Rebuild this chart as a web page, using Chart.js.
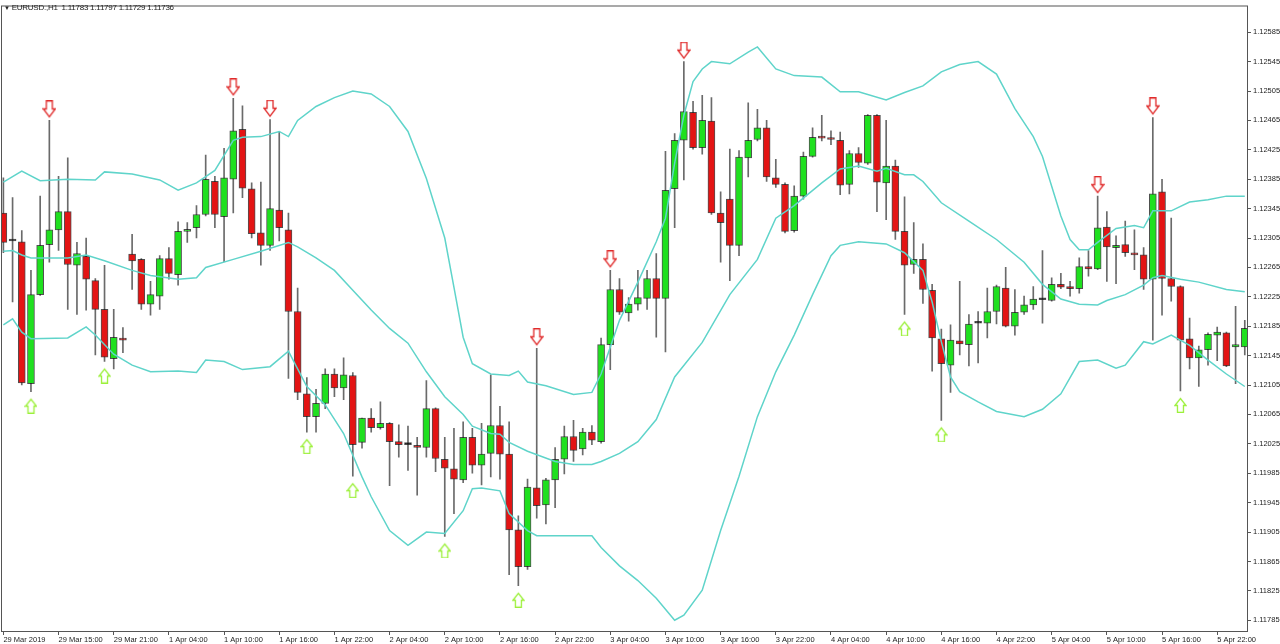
<!DOCTYPE html>
<html>
<head>
<meta charset="utf-8">
<script src="https://cdn.jsdelivr.net/npm/chart.js"></script>
<style>
  html, body { margin: 0; padding: 0; background: #fff; }
  #wrap { position: relative; width: 1280px; height: 644px; }
  #hdr { position: absolute; left: 4px; top: 3px; font: 8px "Liberation Sans", Arial, sans-serif; letter-spacing: -0.25px; color: #222; white-space: pre; }
  #hdr b { font-size: 6px; font-weight: normal; }
</style>
</head>
<body>
<div id="wrap">
  <canvas id="chart" width="1280" height="644"></canvas>
  <div id="hdr"><b>▼</b> EURUSD.,H1  1.11783 1.11797 1.11729 1.11736</div>
</div>
<script>
// EURUSD H1, 29 Mar - 5 Apr 2019, one entry per bar
const opens = [
  1.12339, 1.12301, 1.12300, 1.12107, 1.12228, 1.12296, 1.12316, 1.12341, 1.12268, 1.12280,
  1.12247, 1.12208, 1.12141, 1.12169, 1.12283, 1.12276, 1.12215, 1.12226, 1.12277, 1.12255,
  1.12314, 1.12319, 1.12337, 1.12382, 1.12334, 1.12385, 1.12453, 1.12372, 1.12312, 1.12295,
  1.12343, 1.12316, 1.12205, 1.12093, 1.12062, 1.12080, 1.12120, 1.12101, 1.12118, 1.12027,
  1.12060, 1.12047, 1.12053, 1.12028, 1.12024, 1.12023, 1.12020, 1.12073, 1.12004, 1.11991,
  1.11976, 1.12034, 1.11996, 1.12012, 1.12050, 1.12011, 1.11908, 1.11858, 1.11965, 1.11942,
  1.11976, 1.12004, 1.12035, 1.12018, 1.12041, 1.12028, 1.12160, 1.12235, 1.12203, 1.12215,
  1.12223, 1.12250, 1.12223, 1.12372, 1.12438, 1.12476, 1.12428, 1.12464, 1.12339, 1.12358,
  1.12295, 1.12414, 1.12439, 1.12455, 1.12387, 1.12378, 1.12315, 1.12362, 1.12416, 1.12442,
  1.12441, 1.12438, 1.12378, 1.12420, 1.12407, 1.12472, 1.12380, 1.12403, 1.12314, 1.12269,
  1.12276, 1.12234, 1.12168, 1.12132, 1.12165, 1.12160, 1.12189, 1.12189, 1.12205, 1.12237,
  1.12185, 1.12204, 1.12214, 1.12221, 1.12220, 1.12242, 1.12239, 1.12236, 1.12266, 1.12263,
  1.12320, 1.12292, 1.12296, 1.12284, 1.12282, 1.12249, 1.12368, 1.12250, 1.12239, 1.12168,
  1.12142, 1.12153, 1.12173, 1.12176, 1.12157, 1.12157
];
const highs = [
  1.12387, 1.12360, 1.12315, 1.12261, 1.12362, 1.12465, 1.12389, 1.12414, 1.12299, 1.12305,
  1.12250, 1.12268, 1.12208, 1.12183, 1.12310, 1.12277, 1.12246, 1.12281, 1.12292, 1.12327,
  1.12326, 1.12349, 1.12418, 1.12389, 1.12427, 1.12495, 1.12485, 1.12380, 1.12381, 1.12466,
  1.12450, 1.12339, 1.12237, 1.12115, 1.12099, 1.12127, 1.12127, 1.12142, 1.12122, 1.12060,
  1.12073, 1.12082, 1.12054, 1.12051, 1.12049, 1.12034, 1.12111, 1.12074, 1.12034, 1.12046,
  1.12055, 1.12046, 1.12053, 1.12119, 1.12076, 1.12055, 1.11927, 1.11977, 1.12155, 1.11978,
  1.12020, 1.12049, 1.12057, 1.12046, 1.12050, 1.12169, 1.12261, 1.12250, 1.12224, 1.12261,
  1.12261, 1.12284, 1.12423, 1.12447, 1.12545, 1.12491, 1.12499, 1.12496, 1.12368, 1.12426,
  1.12424, 1.12489, 1.12480, 1.12465, 1.12412, 1.12380, 1.12376, 1.12422, 1.12455, 1.12472,
  1.12451, 1.12449, 1.12424, 1.12428, 1.12473, 1.12473, 1.12465, 1.12411, 1.12361, 1.12326,
  1.12297, 1.12242, 1.12181, 1.12187, 1.12246, 1.12201, 1.12205, 1.12237, 1.12241, 1.12265,
  1.12235, 1.12226, 1.12239, 1.12288, 1.12251, 1.12257, 1.12246, 1.12278, 1.12288, 1.12362,
  1.12341, 1.12308, 1.12328, 1.12316, 1.12292, 1.12469, 1.12385, 1.12332, 1.12240, 1.12196,
  1.12158, 1.12176, 1.12184, 1.12177, 1.12212, 1.12193
];
const lows = [
  1.12285, 1.12218, 1.12105, 1.12096, 1.12227, 1.12272, 1.12288, 1.12208, 1.12201, 1.12207,
  1.12146, 1.12137, 1.12127, 1.12149, 1.12235, 1.12208, 1.12200, 1.12208, 1.12249, 1.12241,
  1.12299, 1.12305, 1.12335, 1.12319, 1.12273, 1.12339, 1.12360, 1.12305, 1.12268, 1.12288,
  1.12301, 1.12114, 1.12085, 1.12041, 1.12041, 1.12073, 1.12089, 1.12085, 1.11981, 1.12019,
  1.12041, 1.12045, 1.11968, 1.12007, 1.11989, 1.11955, 1.12007, 1.11987, 1.11899, 1.11930,
  1.11972, 1.11985, 1.11969, 1.11980, 1.11977, 1.11847, 1.11832, 1.11854, 1.11924, 1.11916,
  1.11938, 1.11984, 1.12001, 1.12010, 1.12024, 1.12026, 1.12126, 1.12201, 1.12192, 1.12207,
  1.12208, 1.12170, 1.12150, 1.12319, 1.12384, 1.12426, 1.12419, 1.12337, 1.12272, 1.12247,
  1.12281, 1.12388, 1.12437, 1.12382, 1.12374, 1.12312, 1.12313, 1.12358, 1.12415, 1.12437,
  1.12432, 1.12364, 1.12365, 1.12401, 1.12405, 1.12341, 1.12330, 1.12303, 1.12201, 1.12257,
  1.12216, 1.12124, 1.12057, 1.12095, 1.12146, 1.12131, 1.12135, 1.12169, 1.12188, 1.12184,
  1.12173, 1.12201, 1.12208, 1.12189, 1.12219, 1.12236, 1.12226, 1.12230, 1.12253, 1.12262,
  1.12246, 1.12243, 1.12280, 1.12262, 1.12235, 1.12166, 1.12200, 1.12219, 1.12097, 1.12127,
  1.12103, 1.12132, 1.12138, 1.12130, 1.12107, 1.12146
];
const closes = [
  1.12299, 1.12301, 1.12108, 1.12228, 1.12295, 1.12316, 1.12341, 1.12269, 1.12284, 1.12249,
  1.12208, 1.12143, 1.12170, 1.12166, 1.12274, 1.12215, 1.12228, 1.12277, 1.12257, 1.12314,
  1.12316, 1.12337, 1.12385, 1.12337, 1.12387, 1.12451, 1.12373, 1.12311, 1.12295, 1.12345,
  1.12319, 1.12205, 1.12095, 1.12062, 1.12080, 1.12120, 1.12101, 1.12119, 1.12024, 1.12060,
  1.12047, 1.12053, 1.12028, 1.12024, 1.12024, 1.12020, 1.12073, 1.12005, 1.11992, 1.11977,
  1.12034, 1.11996, 1.12011, 1.12050, 1.12011, 1.11908, 1.11858, 1.11966, 1.11941, 1.11976,
  1.12004, 1.12035, 1.12016, 1.12041, 1.12030, 1.12160, 1.12235, 1.12204, 1.12215, 1.12224,
  1.12250, 1.12223, 1.12370, 1.12438, 1.12477, 1.12428, 1.12465, 1.12339, 1.12326, 1.12295,
  1.12415, 1.12438, 1.12455, 1.12388, 1.12378, 1.12314, 1.12362, 1.12416, 1.12442, 1.12441,
  1.12439, 1.12377, 1.12420, 1.12408, 1.12472, 1.12381, 1.12403, 1.12314, 1.12268, 1.12276,
  1.12235, 1.12169, 1.12134, 1.12166, 1.12161, 1.12188, 1.12189, 1.12205, 1.12239, 1.12185,
  1.12204, 1.12214, 1.12222, 1.12221, 1.12242, 1.12238, 1.12236, 1.12266, 1.12263, 1.12319,
  1.12293, 1.12295, 1.12285, 1.12282, 1.12249, 1.12365, 1.12250, 1.12239, 1.12166, 1.12142,
  1.12153, 1.12174, 1.12177, 1.12131, 1.12160, 1.12182
];

// Bollinger bands: [bar index, price]
const upperBand = [
  [0,1.12381],[2,1.12396],[4,1.12383],[7,1.12385],[10,1.12384],[11,1.12395],[14,1.12392],[17,1.12384],
  [19,1.12370],[21,1.12380],[23,1.12397],[25,1.12438],[26,1.12442],[28,1.12443],[30,1.12450],[31,1.12443],
  [32,1.12465],[34,1.12484],[36,1.12496],[38,1.12505],[40,1.12501],[42,1.12484],[44,1.12450],[46,1.12386],
  [48,1.12305],[49,1.12238],[50,1.12170],[51,1.12134],[53,1.12120],[55,1.12118],[56,1.12124],[57,1.12109],
  [59,1.12104],[62,1.12092],[64,1.12095],[65,1.12120],[67,1.12193],[69,1.12245],[71,1.12300],[72,1.12332],
  [73,1.12407],[74,1.12472],[75,1.12518],[76,1.12535],[77,1.12545],[79,1.12542],[81,1.12558],[82,1.12565],
  [84,1.12535],[86,1.12526],[89,1.12524],[91,1.12504],[93,1.12504],[96,1.12493],[98,1.12503],[100,1.12512],
  [102,1.12531],[104,1.12541],[106,1.12545],[108,1.12528],[110,1.12481],[112,1.12443],[113,1.12416],[115,1.12335],
  [116,1.12303],[117,1.12289],[118,1.12289],[119,1.12299],[121,1.12318],[123,1.12322],[124,1.12319],[125,1.12342],
  [127,1.12342],[129,1.12354],[131,1.12357],[133,1.12362],[135,1.12362]
];
const middleBand = [
  [0,1.12287],[1,1.12288],[2,1.12282],[3,1.12278],[7,1.12278],[9,1.12282],[11,1.12274],[14,1.12261],
  [16,1.12254],[19,1.12249],[21,1.12251],[22,1.12265],[25,1.12276],[28,1.12287],[31,1.12299],[32,1.12293],
  [34,1.12278],[36,1.12261],[38,1.12234],[40,1.12207],[42,1.12182],[44,1.12162],[46,1.12123],[48,1.12089],
  [50,1.12065],[51,1.12049],[53,1.12039],[54,1.12038],[55,1.12027],[57,1.12015],[60,1.12001],[62,1.11997],
  [64,1.11997],[65,1.12001],[67,1.12012],[69,1.12028],[71,1.12058],[73,1.12116],[76,1.12163],[79,1.12228],
  [82,1.12276],[84,1.12332],[86,1.12349],[89,1.12380],[91,1.12399],[93,1.12403],[95,1.12396],[96,1.12400],
  [98,1.12391],[99,1.12391],[100,1.12382],[102,1.12353],[105,1.12328],[108,1.12303],[111,1.12272],[113,1.12242],
  [115,1.12222],[117,1.12215],[119,1.12214],[120,1.12220],[122,1.12228],[124,1.12241],[125,1.12251],[126,1.12254],
  [128,1.12249],[130,1.12245],[133,1.12235],[135,1.12232]
];
const lowerBand = [
  [0,1.12187],[1,1.12195],[2,1.12177],[3,1.12168],[7,1.12169],[9,1.12184],[10,1.12173],[12,1.12147],
  [14,1.12132],[16,1.12123],[19,1.12124],[21,1.12122],[22,1.12139],[24,1.12137],[26,1.12126],[29,1.12130],
  [31,1.12151],[32,1.12127],[33,1.12103],[35,1.12078],[37,1.12039],[39,1.11980],[40,1.11953],[42,1.11907],
  [44,1.11887],[46,1.11905],[48,1.11903],[50,1.11934],[51,1.11964],[52,1.11965],[54,1.11961],[55,1.11930],
  [57,1.11907],[58,1.11900],[61,1.11900],[64,1.11900],[65,1.11884],[67,1.11859],[69,1.11839],[71,1.11815],
  [73,1.11785],[74,1.11792],[76,1.11826],[78,1.11907],[80,1.11981],[82,1.12062],[84,1.12123],[86,1.12173],
  [88,1.12228],[90,1.12281],[91,1.12295],[93,1.12300],[96,1.12297],[98,1.12285],[100,1.12261],[101,1.12218],
  [102,1.12164],[103,1.12116],[104,1.12096],[106,1.12082],[108,1.12069],[111,1.12062],[113,1.12072],[115,1.12093],
  [117,1.12137],[119,1.12139],[121,1.12128],[122,1.12132],[124,1.12164],[125,1.12161],[127,1.12173],[129,1.12159],
  [131,1.12139],[133,1.12120],[135,1.12103]
];

// signal arrows (bar indices)
const sellArrows = [5, 25, 29, 58, 66, 74, 119, 125];
const buyArrows = [3, 11, 33, 38, 48, 56, 98, 102, 128];

const xTickLabels = [
  '29 Mar 2019', '29 Mar 15:00', '29 Mar 21:00', '1 Apr 04:00', '1 Apr 10:00', '1 Apr 16:00',
  '1 Apr 22:00', '2 Apr 04:00', '2 Apr 10:00', '2 Apr 16:00', '2 Apr 22:00', '3 Apr 04:00',
  '3 Apr 10:00', '3 Apr 16:00', '3 Apr 22:00', '4 Apr 04:00', '4 Apr 10:00', '4 Apr 16:00',
  '4 Apr 22:00', '5 Apr 04:00', '5 Apr 10:00', '5 Apr 16:00', '5 Apr 22:00'
];
const barsPerLabel = 6;
const yTickValues = [
  1.11785, 1.11825, 1.11865, 1.11905, 1.11945, 1.11985, 1.12025, 1.12065, 1.12105, 1.12145,
  1.12185, 1.12225, 1.12265, 1.12305, 1.12345, 1.12385, 1.12425, 1.12465, 1.12505, 1.12545, 1.12585
];

const BULL = '#1fe01f', BEAR = '#e31414', BAND = '#5fd4ca';

const bodyColors = opens.map((o, i) => closes[i] > o ? BULL : (closes[i] < o ? BEAR : '#000'));

// hollow block arrow drawn into a small canvas, offset so its tip sits near the anchor point
function makeArrow(down, color, w, h, gap) {
  const c = document.createElement('canvas');
  c.width = w + 2;
  c.height = 2 * (gap + h);
  const g = c.getContext('2d');
  const sx = (w - 6) / 2, head = h / 2;
  const pts = [[1 + sx, 0], [1 + w - sx, 0], [1 + w - sx, head], [1 + w, head], [1 + w / 2, h], [1, head], [1 + sx, head]];
  g.strokeStyle = color;
  g.lineWidth = 1.3;
  g.beginPath();
  pts.forEach(([px, py], k) => {
    const yy = down ? py + 0.5 : c.height - py - 0.5;
    if (k === 0) g.moveTo(px, yy); else g.lineTo(px, yy);
  });
  g.closePath();
  g.stroke();
  return c;
}
const sellIcon = makeArrow(true, '#e02a2a', 12, 16, 4);
const buyIcon = makeArrow(false, '#9cf03a', 11, 14, 8);

const frame = {
  id: 'frame',
  afterDraw(chart) {
    const { ctx, chartArea: a } = chart;
    ctx.save();
    ctx.strokeStyle = '#555';
    ctx.lineWidth = 1;
    ctx.strokeRect(a.left - 0.5, a.top - 0.5, a.right - a.left, a.bottom - a.top);
    ctx.restore();
  }
};

const tickFont = { family: '"Liberation Sans", Arial, sans-serif', size: 7.5 };

new Chart(document.getElementById('chart'), {
  type: 'bar',
  data: {
    datasets: [
      {
        type: 'line', order: 0,
        data: sellArrows.map(i => ({ x: i, y: highs[i] })),
        showLine: false, pointStyle: sellIcon, pointRadius: 5
      },
      {
        type: 'line', order: 0,
        data: buyArrows.map(i => ({ x: i, y: lows[i] })),
        showLine: false, pointStyle: buyIcon, pointRadius: 5
      },
      {
        type: 'line', order: 1,
        data: upperBand.map(([x, y]) => ({ x, y })),
        borderColor: BAND, borderWidth: 1.5, pointRadius: 0, tension: 0
      },
      {
        type: 'line', order: 1,
        data: middleBand.map(([x, y]) => ({ x, y })),
        borderColor: BAND, borderWidth: 1.5, pointRadius: 0, tension: 0
      },
      {
        type: 'line', order: 1,
        data: lowerBand.map(([x, y]) => ({ x, y })),
        borderColor: BAND, borderWidth: 1.5, pointRadius: 0, tension: 0
      },
      {
        // candle bodies
        order: 2, grouped: false,
        data: opens.map((o, i) => ({ x: i, y: [o, closes[i]] })),
        backgroundColor: bodyColors,
        borderColor: 'rgba(20,20,20,0.75)',
        borderWidth: 1,
        borderSkipped: false,
        barThickness: 7,
        minBarLength: 2
      },
      {
        // wicks
        order: 3, grouped: false,
        data: lows.map((l, i) => ({ x: i, y: [l, highs[i]] })),
        backgroundColor: '#6a6a6a',
        borderWidth: 0,
        barThickness: 1
      }
    ]
  },
  options: {
    responsive: false,
    animation: false,
    layout: { autoPadding: false, padding: { left: 2, top: 2, right: 0, bottom: 0 } },
    plugins: { legend: { display: false }, tooltip: { enabled: false } },
    scales: {
      x: {
        type: 'linear',
        min: -0.15,
        max: 135.35,
        offset: false,
        border: { display: false },
        grid: { display: true, offset: false, drawOnChartArea: false, tickLength: 3, color: '#555' },
        afterBuildTicks: s => { s.ticks = xTickLabels.map((_, k) => ({ value: k * barsPerLabel })); },
        afterFit: s => { s.height = 12; },
        ticks: {
          autoSkip: false, maxRotation: 0, align: 'start', padding: 0,
          color: '#222', font: tickFont,
          callback: v => xTickLabels[v / barsPerLabel]
        }
      },
      y: {
        position: 'right',
        min: 1.11769,
        max: 1.12620,
        border: { display: false },
        grid: { display: true, drawOnChartArea: false, tickLength: 3, color: '#555' },
        afterBuildTicks: s => { s.ticks = yTickValues.map(v => ({ value: v })); },
        afterFit: s => { s.width = 32; },
        ticks: {
          padding: 2, color: '#222', font: tickFont,
          callback: v => v.toFixed(5)
        }
      }
    }
  },
  plugins: [frame]
});
</script>
</body>
</html>
